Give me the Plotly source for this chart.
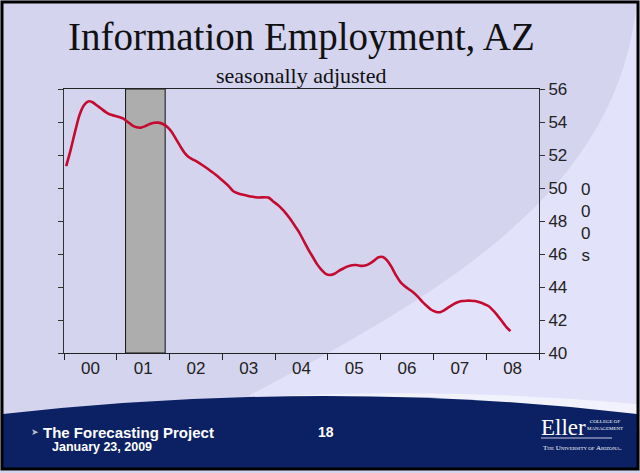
import plotly.graph_objects as go

# ---- data (monthly, Jan 2000 .. Jun 2008), thousands of jobs ----
start_year = 2000
employment = [
    51.33, 52.3, 53.4, 54.4, 55.0, 55.25, 55.2, 55.0, 54.8, 54.6, 54.45, 54.38,
    54.3, 54.2, 54.0, 53.8, 53.68, 53.66, 53.75, 53.88, 53.95, 53.96, 53.88, 53.7,
    53.4, 52.95, 52.5, 52.1, 51.85, 51.7, 51.55, 51.38, 51.2, 51.0, 50.8, 50.58,
    50.35, 50.1, 49.8, 49.68, 49.6, 49.55, 49.48, 49.44, 49.42, 49.44, 49.42, 49.2,
    49.0, 48.75, 48.45, 48.1, 47.7, 47.3, 46.8, 46.3, 45.85, 45.4, 45.05, 44.8,
    44.73, 44.8, 44.98, 45.12, 45.25, 45.32, 45.33, 45.28, 45.3, 45.42, 45.6, 45.8,
    45.82, 45.6, 45.2, 44.7, 44.3, 44.05, 43.85, 43.65, 43.4, 43.1, 42.85, 42.62,
    42.5, 42.47, 42.6, 42.78, 42.95, 43.08, 43.15, 43.17, 43.17, 43.15, 43.07, 42.97,
    42.85, 42.6, 42.3, 41.95, 41.6, 41.33,
]
year_labels = ["00", "01", "02", "03", "04", "05", "06", "07", "08"]
recession_start = 2001 + 2 / 12   # Mar 2001
recession_end = 2001 + 11 / 12    # end of Nov 2001
y_ticks = [40, 42, 44, 46, 48, 50, 52, 54, 56]

x_vals = [start_year + (i + 0.5) / 12 for i in range(len(employment))]

# ---- layout geometry (pixels) ----
W, H = 640, 473
L, T, R, B = 64, 89, 539, 353
PW, PH = R - L, B - T


def px(x):
    return (x - L) / PW


def py(y):
    return (B - y) / PH


def path(cmds):
    out = []
    for c in cmds:
        if isinstance(c, str):
            out.append(c)
        else:
            out.append(f"{px(c[0]):.5f},{py(c[1]):.5f}")
    return " ".join(out)


SANS = "Liberation Sans, Arial, sans-serif"
SERIF = "Liberation Serif, Times New Roman, serif"

fig = go.Figure()
fig.add_trace(go.Scatter(
    x=x_vals, y=employment, mode="lines",
    line=dict(color="#c40a2e", width=2.6, shape="spline", smoothing=0.6),
    hoverinfo="skip", showlegend=False,
))

shapes = [
    # lighter curved region
    dict(type="path", xref="paper", yref="paper", layer="below",
         path=path(["M", (637, 0), "C", (620, 180), (470, 280), (250, 395),
                    "L", (250, 430), "L", (640, 430), "L", (640, 0), "Z"]),
         fillcolor="#e2e2fa", line=dict(width=0)),
    # faint white streak above footer
    dict(type="path", xref="paper", yref="paper", layer="below",
         path=path(["M", (240, 398), "Q", (440, 386), (637, 404),
                    "L", (637, 416), "Q", (440, 392), (240, 402), "Z"]),
         fillcolor="rgba(255,255,255,0.55)", line=dict(width=0)),
    # footer
    dict(type="path", xref="paper", yref="paper", layer="below",
         path=path(["M", (3, 414), "Q", (330, 378), (637, 414),
                    "L", (637, 470), "L", (3, 470), "Z"]),
         fillcolor="#0c2163", line=dict(width=0)),
    # recession band
    dict(type="rect", xref="x", yref="y", layer="below",
         x0=recession_start, x1=recession_end, y0=40, y1=56,
         fillcolor="#adadad", line=dict(color="#111111", width=1)),
    # logo rule
    dict(type="line", xref="paper", yref="paper",
         x0=px(541), x1=px(612), y0=py(438), y1=py(438),
         line=dict(color="#c8cce0", width=1)),
    # slide border
    dict(type="rect", xref="paper", yref="paper", layer="above",
         x0=px(2), x1=px(638), y0=py(2), y1=py(469),
         line=dict(color="#000000", width=3)),
]

ann = [
    dict(text="Information Employment, AZ", x=px(301), y=py(37),
         font=dict(family=SERIF, size=39, color="#111111")),
    dict(text="seasonally adjusted", x=px(301), y=py(75),
         font=dict(family=SERIF, size=22, color="#111111")),
    dict(text="0<br>0<br>0<br>s", x=px(585), y=py(222),
         font=dict(family=SANS, size=17, color="#222222")),
    dict(text="<b>The Forecasting Project</b>", x=px(41), y=py(432), xanchor="left",
         font=dict(family=SANS, size=15, color="#ffffff")),
    dict(text="<b>January 23, 2009</b>", x=px(50), y=py(447), xanchor="left",
         font=dict(family=SANS, size=12.5, color="#ffffff")),
    dict(text="➤", x=px(35), y=py(432),
         font=dict(family="DejaVu Sans", size=9, color="#b8bccc")),
    dict(text="<b>18</b>", x=px(326), y=py(432),
         font=dict(family=SANS, size=14, color="#ffffff")),
    dict(text="Eller", x=px(539), y=py(427), xanchor="left",
         font=dict(family=SERIF, size=23, color="#ffffff")),
    dict(text="COLLEGE OF<br>MANAGEMENT", x=px(585), y=py(425), xanchor="left",
         font=dict(family=SERIF, size=5, color="#ffffff")),
    dict(text="T<span style='font-size:5px'>HE</span> U<span style='font-size:5px'>NIVERSITY OF</span> A<span style='font-size:5px'>RIZONA</span>.",
         x=px(541), y=py(448), xanchor="left",
         font=dict(family=SERIF, size=7, color="#ffffff")),
]
for a in ann:
    a.setdefault("xanchor", "center")
    a.update(xref="paper", yref="paper", yanchor="middle", showarrow=False)

fig.update_layout(
    width=W, height=H,
    margin=dict(l=L, r=W - R, t=T, b=H - B, pad=0),
    paper_bgcolor="#d4d4ef",
    plot_bgcolor="rgba(0,0,0,0)",
    shapes=shapes,
    annotations=ann,
    showlegend=False,
    xaxis=dict(
        range=[2000, 2009], showgrid=False, zeroline=False,
        tickmode="array", tickvals=[2000.5 + i for i in range(len(year_labels))],
        ticktext=year_labels, ticks="",
        tickfont=dict(family=SANS, size=17, color="#222222"),
        showline=True, linecolor="#222222", linewidth=1, mirror=True,
        minor=dict(tick0=2000, dtick=1, ticks="outside", ticklen=6,
                   tickcolor="#222222", showgrid=False),
        fixedrange=True,
    ),
    yaxis=dict(
        range=[40, 56], side="right", showgrid=False, zeroline=False,
        tickmode="array", tickvals=y_ticks, ticks="outside", ticklen=5,
        tickcolor="#333333",
        tickfont=dict(family=SANS, size=17, color="#222222"),
        showline=True, linecolor="#333333", linewidth=1, mirror="ticks",
        fixedrange=True,
    ),
)

fig.write_html(
    "out.html",
    config={"displayModeBar": False},
    post_script="document.body.style.margin='0';document.body.style.overflow='hidden';",
)
